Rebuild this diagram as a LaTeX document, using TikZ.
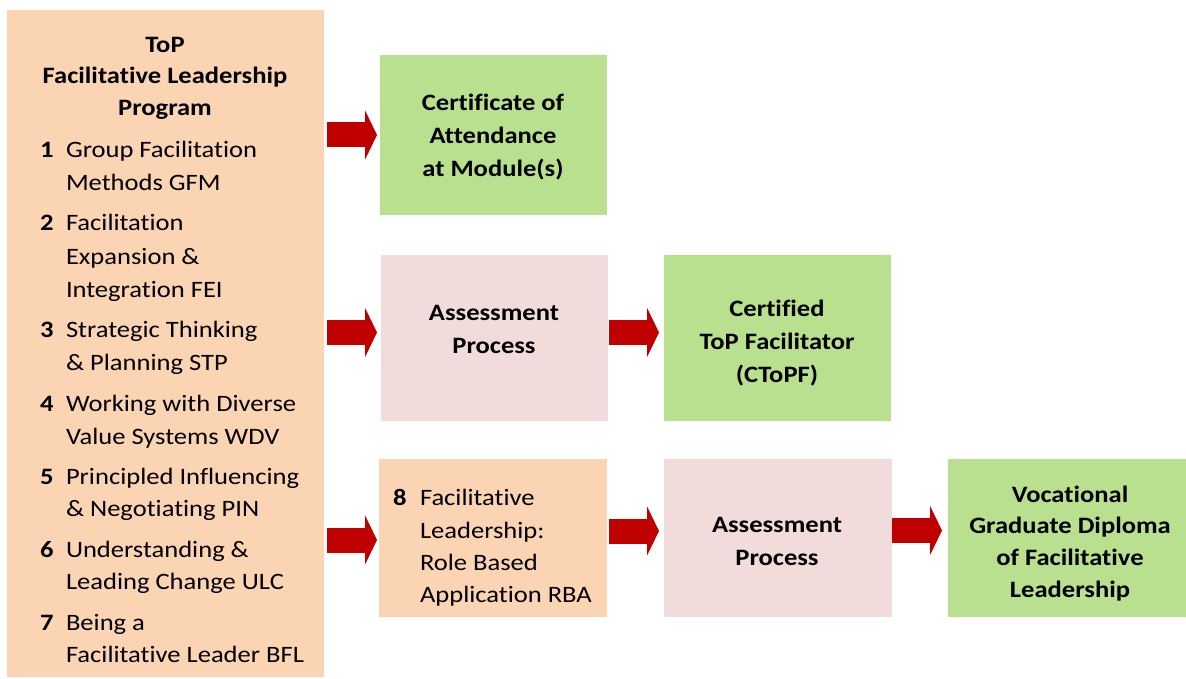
\documentclass[tikz,border=0pt]{standalone}
\usepackage{fontspec}
\setmainfont{Carlito}[Ligatures=NoCommon, FakeStretch=1.13]
\usetikzlibrary{arrows.meta,calc}
\definecolor{peach}{HTML}{FBD4B4}
\definecolor{leaf}{HTML}{B9E08F}
\definecolor{rose}{HTML}{F2DCDB}
\definecolor{arrowred}{HTML}{C00000}
\begin{document}
\begin{tikzpicture}[x=1pt,y=-1pt,
  box/.style={inner sep=0pt, outer sep=0pt, draw=none},
  txt/.style={inner sep=0pt, outer sep=0pt, font=\fontsize{23.5}{32}\selectfont, text=black},
  btxt/.style={txt, font=\fontsize{23.5}{32}\selectfont\bfseries},
  bigarrow/.style={draw=arrowred, line width=25pt, -{Triangle[length=12pt,width=49pt]}}
]
\useasboundingbox (0,0) rectangle (1186,679);
% boxes
\node[box, fill=peach, minimum width=317pt, minimum height=667pt] (lp) at (165.5,343.5) {};
\node[box, fill=leaf, minimum width=227pt, minimum height=160pt] (g1) at (493.5,135) {};
\node[box, fill=rose, minimum width=227pt, minimum height=166pt] (pk1) at (494.5,338) {};
\node[box, fill=leaf, minimum width=227pt, minimum height=166pt] (g2) at (777.5,338) {};
\node[box, fill=peach, minimum width=228pt, minimum height=158pt] (p2) at (493,538) {};
\node[box, fill=rose, minimum width=228pt, minimum height=158pt] (pk2) at (778,538) {};
\node[box, fill=leaf, minimum width=238pt, minimum height=158pt] (g3) at (1067,538) {};
% left heading
\foreach \yy/\t [count=\i] in {53/ToP, 84/Facilitative Leadership, 116/Program}
  \node[btxt, anchor=base] (lh\i) at (165,\yy) {\t};
% item numbers
\foreach \yy/\t [count=\i] in {158/1, 231/2, 337/3, 411/4, 484/5, 557/6, 630/7}
  \node[btxt, anchor=base west] (ln\i) at (40,\yy) {\t};
% item texts
\foreach \yy/\t [count=\i] in {158/Group Facilitation, 191/Methods GFM,
    231/Facilitation, 264/Expansion \&, 297/Integration FEI,
    337/Strategic Thinking, 370/\& Planning STP,
    411/Working with Diverse, 444/Value Systems WDV,
    484/Principled Influencing, 516/\& Negotiating PIN,
    557/Understanding \&, 589/Leading Change ULC,
    630/Being a, 662/Facilitative Leader BFL}
  \node[txt, anchor=base west] (lt\i) at (66,\yy) {\t};
% certificate
\foreach \yy/\t [count=\i] in {111/Certificate of, 144/Attendance, 177/at Module(s)}
  \node[btxt, anchor=base] (g1t\i) at (493,\yy) {\t};
% assessment 1
\foreach \yy/\t [count=\i] in {320/Assessment, 353/Process}
  \node[btxt, anchor=base] (pk1t\i) at (494,\yy) {\t};
% certified
\foreach \yy/\t [count=\i] in {316/Certified, 349/ToP Facilitator, 382/(CToPF)}
  \node[btxt, anchor=base] (g2t\i) at (777,\yy) {\t};
% module 8
\node[btxt, anchor=base west] (p2n) at (393,505) {8};
\foreach \yy/\t [count=\i] in {505/Facilitative, 538/Leadership:, 570/Role Based, 602/Application RBA}
  \node[txt, anchor=base west] (p2t\i) at (420,\yy) {\t};
% assessment 2
\foreach \yy/\t [count=\i] in {532/Assessment, 565/Process}
  \node[btxt, anchor=base] (pk2t\i) at (777,\yy) {\t};
% diploma
\foreach \yy/\t [count=\i] in {502/Vocational, 533/Graduate Diploma, 565/of Facilitative, 597/Leadership}
  \node[btxt, anchor=base] (g3t\i) at (1070,\yy) {\t};
% arrows
\draw[bigarrow, shorten <=3pt, shorten >=3pt] (lp.east |- g1.west) -- (g1.west);
\draw[bigarrow, shorten <=3pt, shorten >=4pt] ([yshift=5.5pt]lp.east |- pk1.west) -- ([yshift=5.5pt]pk1.west);
\draw[bigarrow, shorten <=3pt, shorten >=2pt] ([yshift=-2pt]lp.east |- p2.west) -- ([yshift=-2pt]p2.west);
\draw[bigarrow, shorten <=1pt, shorten >=5pt] ([yshift=5.5pt]pk1.east) -- ([yshift=5.5pt]g2.west);
\draw[bigarrow, shorten <=2pt, shorten >=5pt] ([yshift=7pt]p2.east) -- ([yshift=7pt]pk2.west);
\draw[bigarrow, shorten <=0pt, shorten >=6pt] ([yshift=7.5pt]pk2.east) -- ([yshift=7.5pt]g3.west);
\end{tikzpicture}
\end{document}
